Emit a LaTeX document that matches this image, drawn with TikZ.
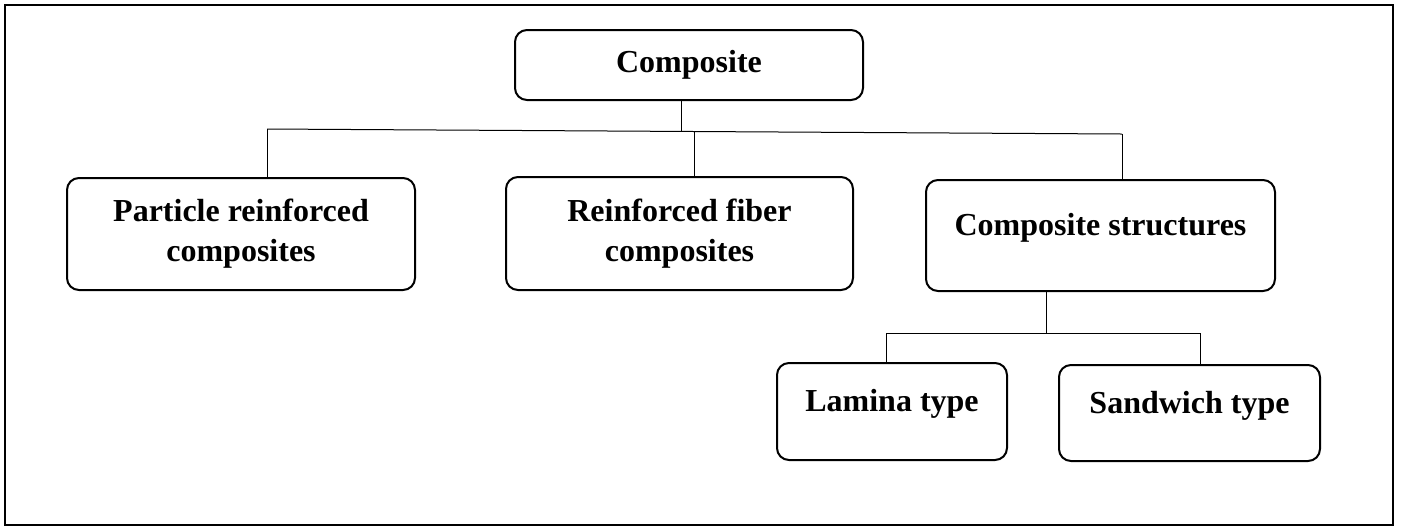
\documentclass[tikz,border=0pt]{standalone}
\usepackage{fontspec}
\setmainfont{Liberation Serif}
\begin{document}
\begin{tikzpicture}[x=0.5pt,y=-0.5pt,
  box/.style={draw, line width=1pt, rounded corners=6pt, align=center, inner sep=0pt,
    font=\fontsize{16}{20}\selectfont\bfseries},
  link/.style={line width=0.5pt},
  upper/.style={text height=11pt, text depth=11pt}]
\useasboundingbox (0,0) rectangle (1403,527);
\draw[line width=1pt] (5,5) rectangle (1393,525);
% boxes
\node[box, minimum width=174pt, minimum height=35pt] (comp) at (689,65) {Composite};
\node[box, minimum width=174pt, minimum height=56pt] (part) at (241,234) {Particle reinforced\\composites};
\node[box, minimum width=173.5pt, minimum height=56.5pt] (fib) at (679.5,233.5) {Reinforced fiber\\composites};
\node[box, upper, minimum width=174.5pt, minimum height=55.5pt] (cs) at (1100.5,235.5) {Composite structures};
\node[box, upper, minimum width=115pt, minimum height=48.5pt] (lam) at (892,411.5) {Lamina type};
\node[box, upper, minimum width=130.5pt, minimum height=48pt] (sand) at (1189.5,413) {Sandwich type};
% top-level connectors
\coordinate (barL) at (267,129);
\coordinate (barR) at (1122,134);
\coordinate (barM) at (681,131.4);
\coordinate (barF) at (694,131.5);
\draw[link] ([xshift=-4pt]comp.south) -- (barM);
\draw[link] (barL) -- (barR);
\draw[link] (barL) -- ([xshift=13pt]part.north);
\draw[link] (barF) -- ([xshift=7.25pt]fib.north);
\draw[link] (barR) -- ([xshift=10.75pt]cs.north);
% second-level connectors
\coordinate (subL) at (886,333);
\coordinate (subR) at (1200,333);
\coordinate (subM) at (1046,333);
\draw[link] ([xshift=-27.25pt]cs.south) -- (subM);
\draw[link] (subL) -- (subR);
\draw[link] (subL) -- ([xshift=-3pt]lam.north);
\draw[link] (subR) -- ([xshift=5.25pt]sand.north);
\end{tikzpicture}
\end{document}
